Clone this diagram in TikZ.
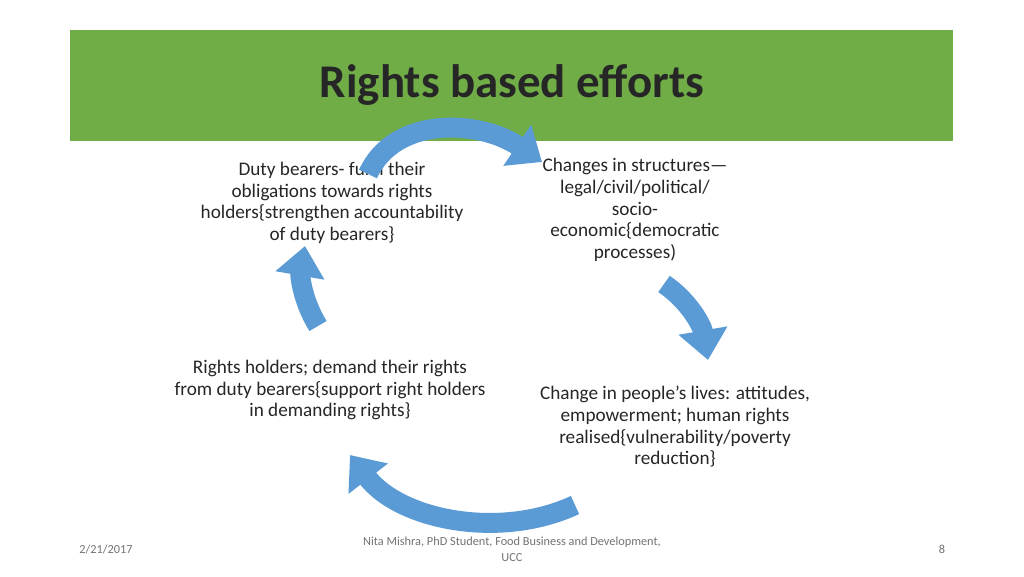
\documentclass[tikz,border=0pt]{standalone}
\usepackage{fontspec}
\setmainfont{Carlito}
\usetikzlibrary{arrows.meta}
\definecolor{banner}{HTML}{70AD47}
\definecolor{cyc}{HTML}{5B9BD5}
\begin{document}
\begin{tikzpicture}[x=0.03cm,y=-0.03cm,
    txt/.style={align=center,font=\fontsize{16.4}{18.5}\selectfont,text=black!85,inner sep=0pt},
    foot/.style={font=\fontsize{10.5}{14}\selectfont,text=black!55,align=center,inner sep=0pt},
    cycarrow/.style={draw=cyc,line width=17pt,-{Triangle[length=0pt 1.5,width=0pt 2.4]}}
  ]
  \useasboundingbox[fill=white] (0,0) rectangle (1024,576);
  % banner
  \fill[banner] (70,30) rectangle (953,141);
  \node[font=\fontsize{40}{46}\selectfont\bfseries,text=black!85] (title) at (512,85) {Rights based efforts};

  % cycle texts
  \node[txt] (duty) at (332,203) {Duty bearers- fulfil their\\obligations towards rights\\holders\{strengthen accountability\\of duty bearers\}};
  \node[txt] (struct) at (635,210) {Changes in structures—\\legal/civil/political/\\socio-\\economic\{democratic\\processes)};
  \node[txt] (lives) at (675,427) {Change in people’s lives: attitudes,\\empowerment; human rights\\realised\{vulnerability/poverty\\reduction\}};
  \node[txt] (holders) at (330,390) {Rights holders; demand their rights\\from duty bearers\{support right holders\\in demanding rights\}};

  % arrow ends
  \coordinate (a1) at (368,174);
  \coordinate (b1) at (542,162);
  \coordinate (a2) at (664,284);
  \coordinate (b2) at (708,360);
  \coordinate (a3) at (575,505);
  \coordinate (b3) at (350,455);
  \coordinate (a4) at (318,326);
  \coordinate (b4) at (305,246);

  \draw[cycarrow] (a1) .. controls (395,115) and (480,120) .. (b1);
  \draw[cycarrow] (a2) .. controls (688,300) and (702,325) .. (b2);
  \draw[cycarrow] (a3) .. controls (500,540) and (400,520) .. (b3);
  \draw[cycarrow] (a4) .. controls (302,300) and (300,275) .. (b4);

  % footer
  \node[foot] (date) at (106,549) {2/21/2017};
  \node[foot] (author) at (512,549) {Nita Mishra, PhD Student, Food Business and Development,\\UCC};
  \node[foot] (page) at (942,549) {8};
\end{tikzpicture}
\end{document}
